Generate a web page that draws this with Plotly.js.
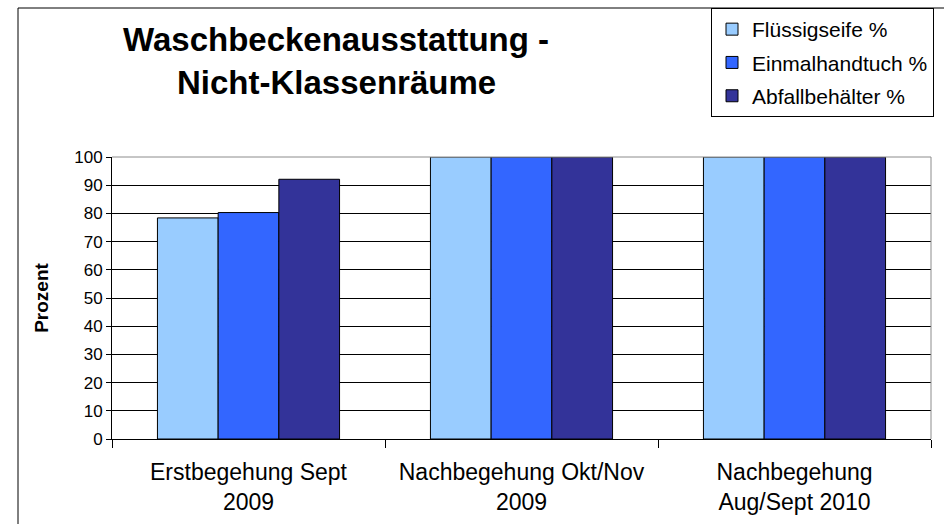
<!DOCTYPE html>
<html>
<head>
<meta charset="utf-8">
<script src="https://cdn.plot.ly/plotly-3.0.1.min.js"></script>
<style>html,body{margin:0;padding:0;background:#fff;}#chart{width:944px;height:524px;}</style>
</head>
<body>
<div id="chart"></div>
<script>
const categories = ["Erstbegehung Sept<br>2009", "Nachbegehung Okt/Nov<br>2009", "Nachbegehung<br>Aug/Sept 2010"];
const seriesNames = ["Flüssigseife %", "Einmalhandtuch %", "Abfallbehälter %"];
const fluessigseife = [78.4, 100, 100];
const einmalhandtuch = [80.3, 100, 100];
const abfallbehaelter = [92.1, 100, 100];
const colors = ["#99CCFF", "#3366FF", "#333399"];
const yTickVals = [0, 10, 20, 30, 40, 50, 60, 70, 80, 90, 100];
const titleLines = ["Waschbeckenausstattung -", "Nicht-Klassenräume"];

const FONT = "Liberation Sans, Arial, Helvetica, sans-serif";
const seriesValues = [fluessigseife, einmalhandtuch, abfallbehaelter];

const traces = seriesValues.map((vals, i) => ({
  type: "bar",
  x: categories,
  y: vals,
  name: seriesNames[i],
  legendgroup: "g" + i,
  marker: { color: colors[i], line: { color: "#000000", width: 1 } },
  hoverinfo: "y+name"
}));

const W = 944, H = 524;
const L = 112, R = 931, T = 157, B = 439;
const px = p => (p - L) / (R - L);
const py = q => (B - q) / (B - T);

const layout = {
  width: W, height: H,
  margin: { l: L, r: W - R, t: T, b: H - B, autoexpand: false },
  paper_bgcolor: "#ffffff",
  plot_bgcolor: "#ffffff",
  font: { family: FONT, color: "#000000" },
  barmode: "group",
  bargap: 0.333,
  bargroupgap: 0,
  showlegend: true,
  legend: {
    xref: "container", yref: "container",
    x: 711 / W, y: 1 - 8 / H, xanchor: "left", yanchor: "top",
    bordercolor: "#000000", borderwidth: 1, bgcolor: "#ffffff",
    font: { family: FONT, size: 21, color: "#000000" },
    tracegroupgap: 3,
    itemwidth: 30
  },
  xaxis: {
    type: "category",
    showline: true, linecolor: "#000000", linewidth: 1,
    ticks: "outside", tickson: "boundaries", ticklen: 8, tickcolor: "#000000",
    ticklabelstandoff: 12,
    showgrid: false,
    tickfont: { family: FONT, size: 23, color: "#000000" },
    fixedrange: true
  },
  yaxis: {
    range: [0, 100],
    tickvals: yTickVals,
    showline: true, linecolor: "#000000", linewidth: 1,
    ticks: "outside", ticklen: 5, tickcolor: "#000000",
    showgrid: true, gridcolor: "#000000", gridwidth: 1,
    zeroline: false,
    tickfont: { family: FONT, size: 17, color: "#000000" },
    title: { text: "Prozent", font: { family: FONT, size: 19, color: "#000000", weight: "bold" }, standoff: 20 },
    fixedrange: true
  },
  annotations: titleLines.map((t, i) => ({
    text: t, xref: "paper", yref: "paper",
    x: px(336), y: py(40 + 43 * i), xanchor: "center", yanchor: "middle",
    showarrow: false,
    font: { family: FONT, size: 33, color: "#000000", weight: "bold" }
  })),
  shapes: [
    { type: "line", xref: "paper", yref: "paper", x0: 0, x1: 1, y0: 1, y1: 1, line: { color: "#8c8c8c", width: 1 }, layer: "above" },
    { type: "line", xref: "paper", yref: "paper", x0: 1, x1: 1, y0: 0, y1: 1, line: { color: "#8c8c8c", width: 1 }, layer: "above" },
    { type: "rect", xref: "paper", yref: "paper", x0: px(18), x1: px(990), y0: py(600), y1: py(8), line: { color: "#000000", width: 1 }, fillcolor: "rgba(0,0,0,0)", layer: "below" }
  ]
};

Plotly.newPlot("chart", traces, layout, { displayModeBar: false, staticPlot: true });
</script>
</body>
</html>
